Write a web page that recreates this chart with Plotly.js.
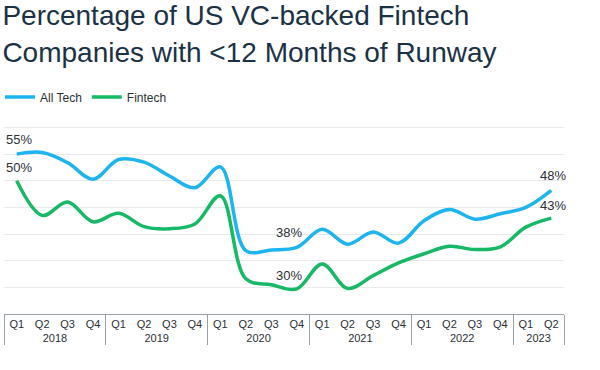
<!DOCTYPE html>
<html>
<head>
<meta charset="utf-8">
<script src="https://cdn.plot.ly/plotly-3.0.1.min.js"></script>
<style>
  html, body { margin: 0; padding: 0; background: #ffffff; }
  #chart { width: 600px; height: 370px; }
</style>
</head>
<body>
<div id="chart"></div>
<script>
// ---- data ----
const years    = ["2018","2018","2018","2018","2019","2019","2019","2019","2020","2020","2020","2020",
                  "2021","2021","2021","2021","2022","2022","2022","2022","2023","2023"];
const quarters = ["Q1","Q2","Q3","Q4","Q1","Q2","Q3","Q4","Q1","Q2","Q3","Q4",
                  "Q1","Q2","Q3","Q4","Q1","Q2","Q3","Q4","Q1","Q2"];
const allTech  = [55.0, 55.3, 53.4, 50.3, 54.0, 53.5, 50.9, 48.7, 52.6, 36.9, 37.0, 37.5,
                  40.9, 38.1, 40.4, 38.3, 42.5, 44.6, 42.8, 43.8, 45.0, 48.2];
const fintech  = [50.0, 43.5, 46.0, 42.3, 43.9, 41.4, 41.0, 41.9, 47.2, 31.6, 30.5, 29.7,
                  34.4, 29.8, 32.2, 34.6, 36.3, 37.7, 37.1, 37.6, 41.3, 43.0];
// indices of the points that carry a value label
const labelIdx = [0, 11, 21];

const BLUE = "#1db4ef";
const GREEN = "#17b866";
const TXT = "#2b2f36";
const FONT = "Liberation Sans, Arial, sans-serif";

const n = quarters.length;
const traces = [
  { x: [years, quarters], y: allTech, name: "All Tech", type: "scatter", mode: "lines",
    line: { color: BLUE, width: 3.5, shape: "spline", smoothing: 1 }, hoverinfo: "skip" },
  { x: [years, quarters], y: fintech, name: "Fintech", type: "scatter", mode: "lines",
    line: { color: GREEN, width: 3.5, shape: "spline", smoothing: 1 }, hoverinfo: "skip" }
];

const annotations = [];
labelIdx.forEach(function (i) {
  const xs = (i === 11) ? -8 : 2;
  [[allTech, 15], [fintech, 13]].forEach(function (pair) {
    annotations.push({
      xref: "paper", yref: "y",
      x: (i + 0.5) / n, y: pair[0][i],
      text: Math.round(pair[0][i]) + "%",
      showarrow: false, xanchor: "center", yanchor: "middle",
      xshift: xs, yshift: pair[1],
      font: { family: FONT, size: 13, color: TXT }
    });
  });
});

const layout = {
  width: 600, height: 370,
  margin: { l: 4, r: 36, t: 111, b: 56, pad: 0 },
  paper_bgcolor: "#ffffff", plot_bgcolor: "#ffffff",
  title: {
    text: "Percentage of US VC-backed Fintech<br>Companies with &lt;12 Months of Runway",
    x: 0.004, xanchor: "left", xref: "container",
    y: 0.932, yanchor: "top", yref: "container",
    font: { family: FONT, size: 28, color: "#1b3246" }
  },
  showlegend: true,
  legend: {
    orientation: "h", x: 0, xanchor: "left", xref: "container",
    y: 1 - 97 / 370, yanchor: "middle", yref: "container",
    font: { family: FONT, size: 12, color: TXT },
    itemwidth: 30, traceorder: "normal", bgcolor: "rgba(0,0,0,0)"
  },
  xaxis: {
    type: "multicategory",
    range: [-0.5, n - 0.5],
    showline: true, linecolor: "#9aa2a9", linewidth: 1,
    showgrid: false, zeroline: false,
    ticks: "", showdividers: true, dividercolor: "#9aa2a9", dividerwidth: 1,
    tickfont: { family: FONT, size: 11, color: TXT },
    fixedrange: true
  },
  yaxis: {
    range: [25, 63],
    tick0: 0, dtick: 5,
    showticklabels: false, ticks: "",
    showgrid: true, gridcolor: "#e8e9ea", gridwidth: 1,
    zeroline: false, showline: false, fixedrange: true
  },
  annotations: annotations
};

Plotly.newPlot("chart", traces, layout, { staticPlot: true, displayModeBar: false });
</script>
</body>
</html>
